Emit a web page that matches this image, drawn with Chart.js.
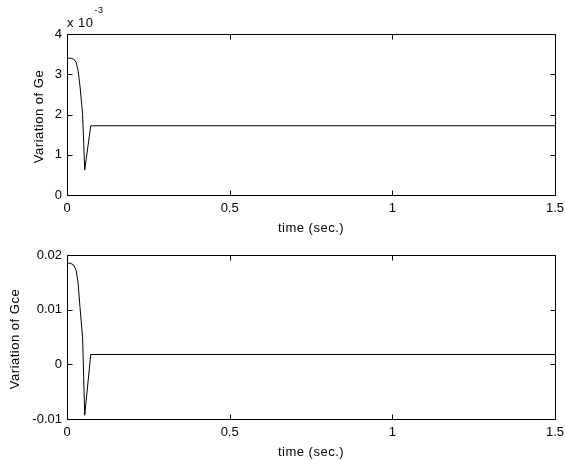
<!DOCTYPE html>
<html>
<head>
<meta charset="utf-8">
<script src="https://cdn.jsdelivr.net/npm/chart.js@4.4.1/dist/chart.umd.min.js"></script>
<style>
  body { margin: 0; background: #fff; }
  .wrap { position: relative; width: 565px; height: 461px; }
  canvas { display: block; position: absolute; left: 0; }
  #topChart { top: 0; }
  #bottomChart { top: 230px; }
</style>
</head>
<body>
<div class="wrap">
<canvas id="topChart" width="565" height="240"></canvas>
<canvas id="bottomChart" width="565" height="231"></canvas>
</div>
<script>
// data
const time = [0, 0.01, 0.02, 0.028, 0.034, 0.04, 0.048, 0.0545, 0.073, 1.5];
const ge = [3.4e-3, 3.4e-3, 3.38e-3, 3.3e-3, 3.1e-3, 2.7e-3, 2.0e-3, 0.62e-3, 1.72e-3, 1.72e-3];
const gce = [0.0185, 0.0185, 0.0182, 0.0172, 0.0150, 0.0104, 0.0048, -0.0093, 0.0018, 0.0018];

const xTicks = [0, 0.5, 1, 1.5];
const xLabels = ['0', '0.5', '1', '1.5'];
const geTicks = [0, 1e-3, 2e-3, 3e-3, 4e-3];
const geLabels = ['0', '1', '2', '3', '4'];
const gceTicks = [-0.01, 0, 0.01, 0.02];
const gceLabels = ['-0.01', '0', '0.01', '0.02'];

const FONT = '"Liberation Sans", Arial, sans-serif';

// box + inward ticks on all four sides, titles, exponent label (matlab look)
const boxPlugin = {
  id: 'box',
  afterDraw(chart, args, opts) {
    const ctx = chart.ctx;
    const a = chart.chartArea;
    const xs = chart.scales.x, ys = chart.scales.y;
    ctx.save();
    ctx.strokeStyle = '#000';
    ctx.lineWidth = 1;
    ctx.beginPath();
    const L = Math.round(a.left) + 0.5, R = Math.round(a.right) + 0.5;
    const T = Math.round(a.top) + 0.5, B = Math.round(a.bottom) + 0.5;
    ctx.rect(L, T, R - L, B - T);
    xs.ticks.forEach(t => {
      const px = Math.round(xs.getPixelForValue(t.value)) + 0.5;
      ctx.moveTo(px, B); ctx.lineTo(px, B - 5);
      ctx.moveTo(px, T); ctx.lineTo(px, T + 5);
    });
    ys.ticks.forEach(t => {
      const py = Math.round(ys.getPixelForValue(t.value)) + 0.5;
      ctx.moveTo(L, py); ctx.lineTo(L + 5, py);
      ctx.moveTo(R, py); ctx.lineTo(R - 5, py);
    });
    ctx.stroke();

    ctx.fillStyle = '#000';
    ctx.font = '13px ' + FONT;
    ctx.letterSpacing = '0.5px';
    ctx.textAlign = 'center';
    ctx.textBaseline = 'middle';
    ctx.fillText(opts.xTitle, (a.left + a.right) / 2, a.bottom + 33);
    ctx.save();
    ctx.translate(opts.yTitleX, (a.top + a.bottom) / 2 + 2);
    ctx.rotate(-Math.PI / 2);
    ctx.fillText(opts.yTitle, 0, 0);
    ctx.restore();

    if (opts.exponent) {
      ctx.textAlign = 'left';
      ctx.textBaseline = 'alphabetic';
      ctx.font = '13px ' + FONT;
      ctx.fillText('x 10', a.left, a.top - 7);
      const w = ctx.measureText('x 10').width;
      ctx.font = '9px ' + FONT;
      ctx.fillText(opts.exponent, a.left + w + 1, a.top - 21);
    }
    ctx.restore();
  }
};

function makeChart(id, ys, yTicks, yLabels, yTitle, yTitleX, padTop, xHeight, exponent) {
  return new Chart(document.getElementById(id), {
    type: 'scatter',
    data: {
      datasets: [{
        data: time.map((t, i) => ({ x: t, y: ys[i] })),
        showLine: true,
        borderColor: '#000',
        borderWidth: 1,
        pointRadius: 0,
        tension: 0
      }]
    },
    options: {
      responsive: false,
      animation: false,
      layout: { padding: { top: padTop, right: 10, left: 0, bottom: 0 } },
      plugins: {
        legend: { display: false },
        tooltip: { enabled: false },
        box: { xTitle: 'time (sec.)', yTitle: yTitle, yTitleX: yTitleX, exponent: exponent }
      },
      scales: {
        x: {
          type: 'linear',
          min: 0, max: 1.5,
          afterBuildTicks: s => { s.ticks = xTicks.map(v => ({ value: v })); },
          afterFit: s => { s.height = xHeight; s.paddingLeft = 0; s.paddingRight = 0; },
          grid: { display: false, drawTicks: false },
          border: { display: false },
          ticks: {
            color: '#000', padding: 6, maxRotation: 0,
            font: { family: FONT, size: 13 },
            callback: (v) => xLabels[xTicks.indexOf(v)]
          }
        },
        y: {
          type: 'linear',
          min: yTicks[0], max: yTicks[yTicks.length - 1],
          afterBuildTicks: s => { s.ticks = yTicks.map(v => ({ value: v })); },
          afterFit: s => { s.width = 67; s.paddingTop = 0; s.paddingBottom = 0; },
          grid: { display: false, drawTicks: false },
          border: { display: false },
          ticks: {
            color: '#000', padding: 5,
            font: { family: FONT, size: 13 },
            callback: (v) => yLabels[yTicks.indexOf(v)]
          }
        }
      }
    },
    plugins: [boxPlugin]
  });
}

makeChart('topChart', ge, geTicks, geLabels, 'Variation of Ge', 39, 34, 45, '-3');
makeChart('bottomChart', gce, gceTicks, gceLabels, 'Variation of Gce', 15, 25, 42, null);
</script>
</body>
</html>
